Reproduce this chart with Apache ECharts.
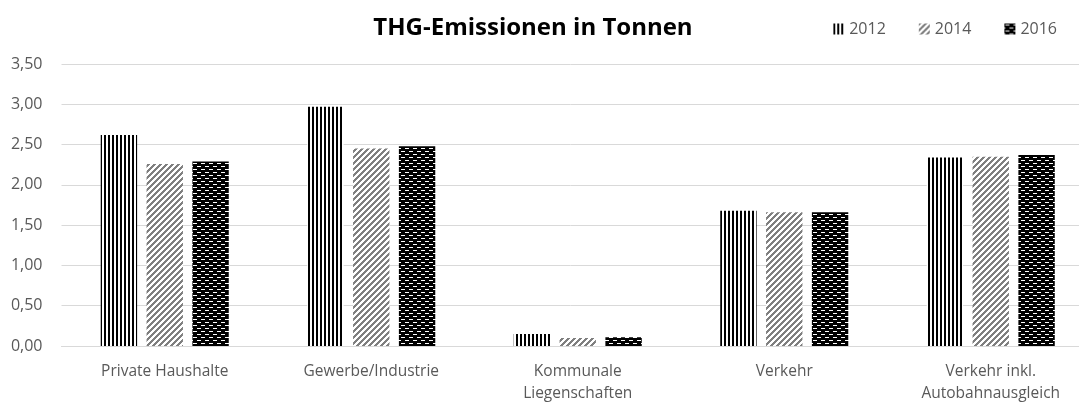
<!DOCTYPE html>
<html>
<head>
<meta charset="utf-8">
<script src="https://cdn.jsdelivr.net/npm/echarts@6/dist/echarts.min.js"></script>
<style>
  html, body { margin: 0; padding: 0; background: #fff; }
  #chart { width: 1079px; height: 402px; }
</style>
</head>
<body>
<div id="chart"></div>
<script>
// Daten
const categories = ['Private Haushalte', 'Gewerbe/Industrie', 'Kommunale\nLiegenschaften', 'Verkehr', 'Verkehr inkl.\nAutobahnausgleich'];
const years = ['2012', '2014', '2016'];
const values2012 = [2.62, 2.97, 0.15, 1.68, 2.34];
const values2014 = [2.26, 2.45, 0.10, 1.66, 2.35];
const values2016 = [2.29, 2.48, 0.11, 1.66, 2.37];

// Musterfüllungen wie im Excel-Diagramm
function makeTile(w, h, draw) {
  const c = document.createElement('canvas');
  c.width = w; c.height = h;
  draw(c.getContext('2d'));
  return { image: c, repeat: 'repeat' };
}

const pattern2012 = makeTile(4, 4, function (ctx) {
  ctx.fillStyle = '#fff';
  ctx.fillRect(0, 0, 4, 4);
  ctx.fillStyle = '#000';
  ctx.fillRect(0, 0, 2, 4);
});

const pattern2014 = makeTile(6, 6, function (ctx) {
  ctx.fillStyle = '#fff';
  ctx.fillRect(0, 0, 6, 6);
  ctx.fillStyle = '#7f7f7f';
  // diagonale Streifen nach rechts oben
  for (let y = 0; y < 6; y++) {
    for (let k = -1; k <= 1; k++) {
      const x = (5 - y) + k * 6;
      ctx.fillRect(x, y, 3, 1);
    }
  }
});

const pattern2016 = makeTile(8, 6, function (ctx) {
  ctx.fillStyle = '#000';
  ctx.fillRect(0, 0, 8, 6);
  ctx.fillStyle = '#fff';
  ctx.fillRect(1, 1, 4, 1);
  ctx.fillRect(5, 4, 3, 1);
  ctx.fillRect(0, 4, 1, 1);
});

const chart = echarts.init(document.getElementById('chart'));

const option = {
  animation: false,
  textStyle: { fontFamily: 'Open Sans' },
  title: {
    text: 'THG-Emissionen in Tonnen',
    left: 528,
    top: 11,
    textAlign: 'center',
    textStyle: { fontSize: 24, fontWeight: 'bold', color: '#000', fontFamily: 'Open Sans' }
  },
  legend: {
    data: years,
    right: 17,
    top: 16,
    itemWidth: 11,
    itemHeight: 11,
    itemGap: 33,
    icon: 'rect',
    textStyle: { fontSize: 16, color: '#595959', fontFamily: 'Open Sans' }
  },
  grid: {
    left: 61.5,
    right: -15,
    top: 64,
    bottom: 56,
    outerBoundsMode: 'none'
  },
  xAxis: {
    type: 'category',
    data: categories,
    axisLine: { lineStyle: { color: '#d9d9d9', width: 1 } },
    axisTick: { show: false },
    axisLabel: {
      color: '#595959',
      fontSize: 15.5,
      lineHeight: 22,
      margin: 15,
      interval: 0,
      fontFamily: 'Open Sans'
    }
  },
  yAxis: {
    type: 'value',
    min: 0,
    max: 3.5,
    interval: 0.5,
    axisLine: { show: false },
    axisTick: { show: false },
    splitLine: { lineStyle: { color: '#d9d9d9', width: 1 } },
    axisLabel: {
      color: '#595959',
      fontSize: 16,
      margin: 19,
      fontFamily: 'Open Sans',
      formatter: function (v) { return v.toFixed(2).replace('.', ','); }
    }
  },
  series: [
    { name: '2012', type: 'bar', data: values2012, itemStyle: { color: pattern2012 }, barGap: '26%', barCategoryGap: '38%' },
    { name: '2014', type: 'bar', data: values2014, itemStyle: { color: pattern2014 }, barGap: '26%', barCategoryGap: '38%' },
    { name: '2016', type: 'bar', data: values2016, itemStyle: { color: pattern2016 }, barGap: '26%', barCategoryGap: '38%' }
  ]
};

chart.setOption(option);
</script>
</body>
</html>
